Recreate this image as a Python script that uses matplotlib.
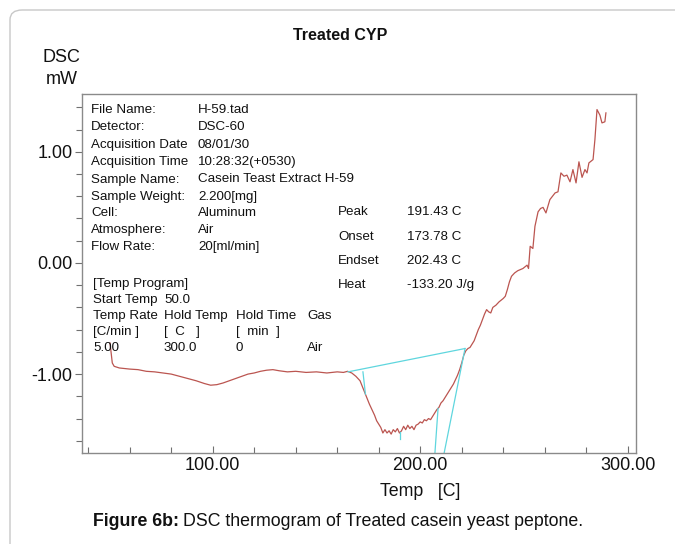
import matplotlib
matplotlib.use("Agg")
import matplotlib.pyplot as plt
from matplotlib.patches import FancyBboxPatch
from matplotlib.ticker import MultipleLocator, FixedLocator

plt.rcParams['font.family'] = ['Liberation Sans', 'DejaVu Sans']

# ---------------- data ----------------
temp_c = [50.5, 51.0, 51.6, 52.5, 55, 60, 64, 68, 72, 76, 80, 84, 88, 92, 96, 99,
          102, 105, 108, 111, 114, 117, 120, 123, 126, 129, 132, 136, 140, 145, 150,
          155, 160, 163, 165, 167, 169, 171, 172.5, 174, 175.5, 177, 178, 179, 180,
          181, 182, 183, 184, 185, 186, 187, 188, 189, 190, 191, 192, 193, 194, 195,
          196, 197, 198, 199, 200, 201, 202, 203, 204, 205, 206, 207, 208, 209, 210,
          211, 212, 213, 214, 215, 216, 217, 218, 219, 220, 221, 222, 223, 224, 225,
          226, 227, 228, 229, 230, 231, 232, 233, 234, 235, 236.5, 238, 240, 241, 242,
          243, 244, 245.5, 247, 249.5, 251.5, 252.2, 253, 254.3, 255.3, 256.8, 258,
          259.2, 260.6, 262.5, 265, 266.4, 267.8, 269.3, 270.7, 272.2, 273.6, 275.1,
          276.5, 278, 279.4, 280.4, 281.3, 283.3, 284.2, 285.2, 286.6, 287.6, 289.0, 289.5]
dsc_mw = [-0.72, -0.80, -0.90, -0.93, -0.945, -0.955, -0.96, -0.975, -0.98, -0.99, -1.00,
          -1.02, -1.04, -1.06, -1.085, -1.10, -1.095, -1.08, -1.06, -1.04, -1.02, -1.00,
          -0.99, -0.975, -0.965, -0.96, -0.97, -0.98, -0.975, -0.985, -0.98, -0.99, -0.98,
          -0.985, -0.975, -0.99, -1.02, -1.06, -1.13, -1.20, -1.27, -1.33, -1.37, -1.42,
          -1.45, -1.48, -1.53, -1.50, -1.53, -1.51, -1.54, -1.50, -1.52, -1.49, -1.53,
          -1.51, -1.47, -1.50, -1.46, -1.49, -1.47, -1.50, -1.46, -1.45, -1.43, -1.44,
          -1.41, -1.42, -1.40, -1.41, -1.38, -1.35, -1.32, -1.30, -1.26, -1.24, -1.21,
          -1.18, -1.15, -1.12, -1.09, -1.05, -1.01, -0.96, -0.90, -0.83, -0.79, -0.77,
          -0.76, -0.73, -0.70, -0.65, -0.60, -0.56, -0.51, -0.46, -0.42, -0.44, -0.45,
          -0.40, -0.38, -0.35, -0.32, -0.30, -0.24, -0.17, -0.12, -0.09, -0.07, -0.05,
          -0.02, -0.05, 0.15, 0.13, 0.33, 0.46, 0.49, 0.50, 0.45, 0.57, 0.63, 0.64, 0.81,
          0.78, 0.79, 0.73, 0.84, 0.72, 0.91, 0.77, 0.84, 0.81, 0.90, 0.93, 1.11, 1.38,
          1.33, 1.26, 1.27, 1.35]

# analysis (cyan) construction lines: [T0, T1], [v0, v1]
baseline_t, baseline_v = [165.2, 221.6], [-0.98, -0.77]
onset_t, onset_v = [172.4, 173.6], [-0.98, -1.18]
peak_t, peak_v = [190.4, 190.4], [-1.52, -1.58]
endset_t, endset_v = [206.9, 208.6], [-1.76, -1.31]
tangent_t, tangent_v = [211.0, 221.6], [-1.76, -0.77]

x_major = [100, 200, 300]
x_major_labels = ['100.00', '200.00', '300.00']
y_major = [-1.0, 0.0, 1.0]
y_major_labels = ['-1.00', '0.00', '1.00']

info_left = ['File Name:', 'Detector:', 'Acquisition Date', 'Acquisition Time',
             'Sample Name:', 'Sample Weight:', 'Cell:', 'Atmosphere:', 'Flow Rate:']
info_right = ['H-59.tad', 'DSC-60', '08/01/30', '10:28:32(+0530)',
              'Casein Teast Extract H-59', '2.200[mg]', 'Aluminum', 'Air', '20[ml/min]']
result_names = ['Peak', 'Onset', 'Endset', 'Heat']
result_values = ['191.43 C', '173.78 C', '202.43 C', '-133.20 J/g']
program_rows = [['Start Temp', '50.0', '', ''],
                ['Temp Rate', 'Hold Temp', 'Hold Time', 'Gas'],
                ['[C/min ]', '[  C   ]', '[  min  ]', ''],
                ['5.00', '300.0', '0', 'Air']]

# ---------------- figure ----------------
W, H = 675, 544
fig = plt.figure(figsize=(W / 100, H / 100), dpi=100)

def P(x, y):
    return (x / W, 1 - y / H)

# outer frame
frame = FancyBboxPatch(P(10, 560), (700) / W, (560 - 10) / H,
                       boxstyle="round,pad=0,rounding_size=0.018",
                       transform=fig.transFigure, fill=False,
                       edgecolor='#c8c8c8', linewidth=1.0, clip_on=False)
fig.patches.append(frame)

ax_l, ax_r, ax_t, ax_b = 82, 636, 94, 453
ax = fig.add_axes([ax_l / W, 1 - ax_b / H, (ax_r - ax_l) / W, (ax_b - ax_t) / H])
ax.set_xlim(37, 304)
ax.set_ylim(-1.71, 1.52)

ax.plot(temp_c, dsc_mw, color='#bb5550', linewidth=0.9)
cyan = '#5fd6de'
for tt, vv in [(baseline_t, baseline_v), (onset_t, onset_v), (peak_t, peak_v),
               (endset_t, endset_v), (tangent_t, tangent_v)]:
    ax.plot(tt, vv, color=cyan, linewidth=0.9)

for s in ax.spines.values():
    s.set_color('#8a8a8a')
    s.set_linewidth(1.0)

ax.xaxis.set_major_locator(FixedLocator(x_major))
ax.set_xticklabels(x_major_labels)
ax.xaxis.set_minor_locator(MultipleLocator(20))
ax.yaxis.set_major_locator(FixedLocator(y_major))
ax.set_yticklabels(y_major_labels)
ax.yaxis.set_minor_locator(MultipleLocator(0.2))
ax.tick_params(which='both', color='#707070', labelsize=13,
               labelcolor='#111111', width=0.8)
ax.tick_params(axis='x', which='both', direction='in')
ax.tick_params(axis='y', which='both', direction='out')
ax.tick_params(which='major', length=5, pad=3)
ax.tick_params(which='minor', length=4)
ax.tick_params(axis='y', which='major', pad=2)

# texts
txt_kw = dict(fontsize=9.6, color='#111111', va='center', ha='left')
row_y = [110, 127.5, 145, 162, 179.5, 197, 213.5, 230, 247]
for lbl, val, y in zip(info_left, info_right, row_y):
    fig.text(*P(91, y), lbl, **txt_kw)
    fig.text(*P(198, y), val, **txt_kw)
res_y = [212, 237, 261, 285]
for n, v, y in zip(result_names, result_values, res_y):
    fig.text(*P(338, y), n, **txt_kw)
    fig.text(*P(407, y), v, **txt_kw)
fig.text(*P(93, 284), '[Temp Program]', **txt_kw)
col_x = [93, 164, 236, 307]
prog_y = [300, 316, 332, 348]
for row, y in zip(program_rows, prog_y):
    for cell, x in zip(row, col_x):
        if cell:
            fig.text(*P(x, y), cell, **txt_kw)

fig.text(*P(340, 35), 'Treated CYP', fontsize=11.5, fontweight='bold',
         ha='center', va='center', color='#111111')
fig.text(*P(61, 57), 'DSC', fontsize=13, ha='center', va='center', color='#111111')
fig.text(*P(62, 80), 'mW', fontsize=13, ha='center', va='center', color='#111111')
fig.text(*P(420, 492), 'Temp   [C]', fontsize=12.8, ha='center', va='center', color='#111111')

cap_bold = fig.text(*P(93, 522), 'Figure 6b:', fontsize=12.8, fontweight='bold',
                    ha='left', va='center', color='#111111')
fig.canvas.draw()
bb = cap_bold.get_window_extent()
fig.text(bb.x1 / W + 4 / W, 1 - 522 / H, 'DSC thermogram of Treated casein yeast peptone.',
         fontsize=12.8, ha='left', va='center', color='#111111')

fig.savefig('out.png', dpi=100)
